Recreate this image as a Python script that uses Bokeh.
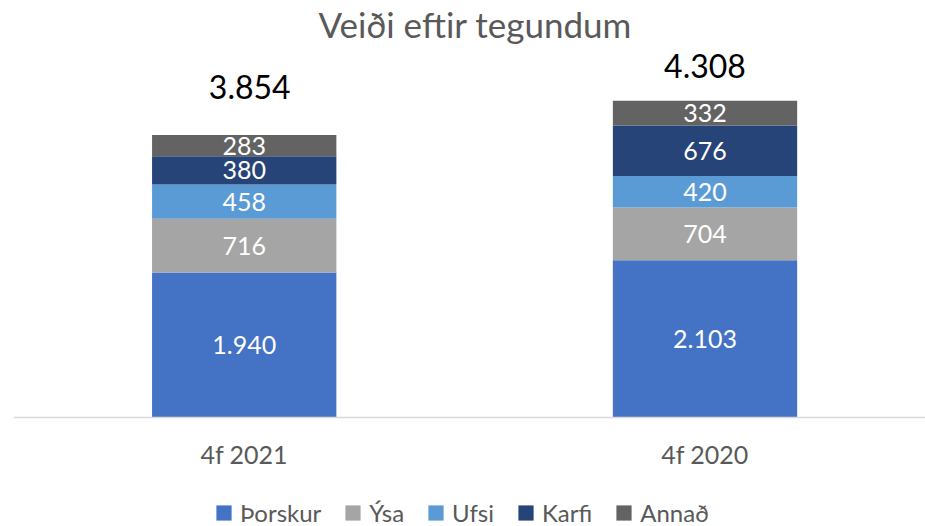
from bokeh.plotting import figure
from bokeh.models import ColumnDataSource, Range1d, FixedTicker, Legend, LegendItem
from bokeh.core.properties import value
from bokeh.embed import file_html
from bokeh.resources import INLINE
import numpy as np

# ---- data ----
categories = ["4f 2021", "4f 2020"]
species = ["Þorskur", "Ýsa", "Ufsi", "Karfi", "Annað"]
thorskur = [1940, 2103]
ysa = [716, 704]
ufsi = [458, 420]
karfi = [380, 676]
annad = [283, 332]
totals = [3854, 4308]
colors = ["#4472C4", "#A5A5A5", "#5B9BD5", "#264478", "#636363"]

# ---- layout constants ----
FONT = "Lato"
FRAME_H = 483          # frame runs from below the title to the bottom of the window
ABOVE_ZERO_PX = 373    # pixels between frame top and the zero line
PX_PER_UNIT = 0.0748
total_x_offsets = [5.5, 0]
total_y_offsets = [-48, -34.5]


def fmt(v):
    return f"{int(round(v)):,}".replace(",", ".")


x_pos = list(range(len(categories)))
keys = ["thorskur", "ysa", "ufsi", "karfi", "annad"]
source = ColumnDataSource(dict(x=x_pos, thorskur=thorskur, ysa=ysa, ufsi=ufsi,
                               karfi=karfi, annad=annad))

y_end = ABOVE_ZERO_PX / PX_PER_UNIT
y_start = -(FRAME_H - ABOVE_ZERO_PX) / PX_PER_UNIT

p = figure(frame_width=912, frame_height=FRAME_H,
           x_range=Range1d(-0.5007, 1.4785), y_range=Range1d(y_start, y_end),
           output_backend="svg", toolbar_location=None, y_axis_location=None,
           min_border_left=13, min_border_right=0, min_border_top=0,
           min_border_bottom=0, outline_line_color=None,
           title="Veiði eftir tegundum")

p.title.align = "left"
p.title.offset = 305
p.title.text_font = FONT
p.title.text_font_size = "35px"
p.title.text_font_style = "normal"
p.title.text_color = "#595959"
p.title.standoff = 0

renderers = p.vbar_stack(keys, x="x", width=0.4, color=colors, line_color=None,
                         source=source)

# segment labels
stack = np.array([thorskur, ysa, ufsi, karfi, annad], dtype=float)
tops = stack.cumsum(axis=0)
mids = tops - stack / 2
lx, ly, lt = [], [], []
for i in range(stack.shape[0]):
    for j in range(stack.shape[1]):
        lx.append(x_pos[j])
        ly.append(mids[i, j])
        lt.append(fmt(stack[i, j]))
p.text(x=lx, y=ly, text=lt, text_align="center", text_baseline="middle",
       text_color="white", text_font=value(FONT), text_font_size="25px")

# totals
p.text(x=x_pos, y=list(tops[-1]), text=[fmt(t) for t in totals],
       x_offset=total_x_offsets, y_offset=total_y_offsets,
       text_align="center", text_baseline="alphabetic", text_color="black",
       text_font=value(FONT), text_font_size="32px")

# axis, drawn at the zero line
p.xaxis.fixed_location = 0
p.xaxis.ticker = FixedTicker(ticks=x_pos)
p.xaxis.major_label_overrides = {i: c for i, c in enumerate(categories)}
p.xaxis.axis_line_color = "#D9D9D9"
p.xaxis.axis_line_width = 1.5
p.xaxis.major_tick_line_color = None
p.xaxis.minor_tick_line_color = None
p.xaxis.major_label_text_font = FONT
p.xaxis.major_label_text_font_size = "25px"
p.xaxis.major_label_text_color = "#595959"
p.xaxis.major_label_standoff = 15
p.xgrid.visible = False
p.ygrid.visible = False

legend = Legend(items=[LegendItem(label=s, renderers=[r]) for s, r in zip(species, renderers)],
                orientation="horizontal", location=(201, 0),
                label_text_font=FONT, label_text_font_size="24px",
                label_text_color="#595959", glyph_width=19, glyph_height=19,
                label_standoff=7, spacing=22, padding=0, margin=0,
                border_line_color=None, background_fill_alpha=0)
p.add_layout(legend, "center")

open("out.html", "w").write(file_html(p, INLINE))
